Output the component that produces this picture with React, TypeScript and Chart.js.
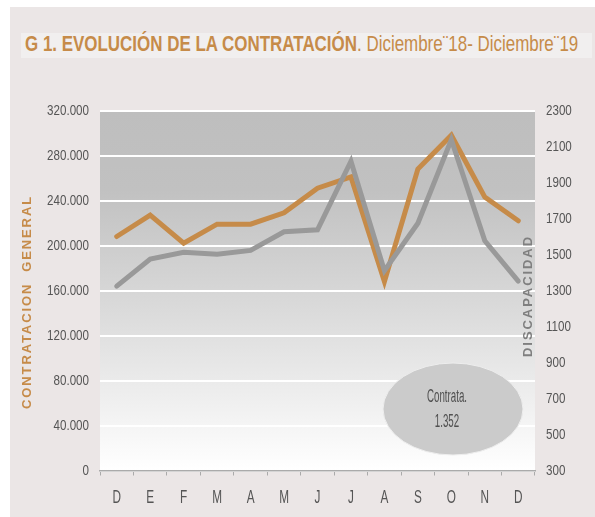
import React, { useEffect, useRef } from "react";
import { Chart, registerables } from "chart.js";

Chart.register(...registerables);

const months = ["D", "E", "F", "M", "A", "M", "J", "J", "A", "S", "O", "N", "D"];
const contratacionGeneral = [208000, 227000, 202000, 219000, 219000, 229000, 251000, 261000, 168000, 268000, 298000, 243000, 222000];
const discapacidad = [1324, 1475, 1512, 1501, 1523, 1626, 1637, 2018, 1410, 1674, 2138, 1576, 1352];
const leftMin = 0;
const leftMax = 320000;
const leftStep = 40000;
const rightMin = 300;
const rightMax = 2300;
const rightStep = 200;
const leftTitle = "CONTRATACION  GENERAL";
const rightTitle = "DISCAPACIDAD";
const bubbleLines = ["Contrata.", "1.352"];
const titleBold = "G 1. EVOLUCIÓN DE LA CONTRATACIÓN";
const titleRest = ". Diciembre¨18- Diciembre¨19";

const SANS = '"Liberation Sans", Arial, sans-serif';
const ORANGE = "#c68b49";
const GREY = "#999999";
const TICK_COLOR = "#555555";
const CANVAS_TOP = 95;
const TITLE_LEFT = 25;
const TITLE_WIDTH = 553;

function fmt(v: number) {
  if (v === 0) return "0";
  const s = String(Math.round(v));
  return s.replace(/\B(?=(\d{3})+(?!\d))/g, ".");
}

function drawSpaced(ctx: CanvasRenderingContext2D, text: string, target: number) {
  (ctx as any).letterSpacing = "0px";
  const w = ctx.measureText(text).width;
  const ls = Math.max(0, (target - w) / text.length);
  (ctx as any).letterSpacing = ls + "px";
  ctx.fillText(text, 0, 0);
  (ctx as any).letterSpacing = "0px";
}

function narrowText(ctx: CanvasRenderingContext2D, text: string, x: number, y: number, sx: number) {
  ctx.save();
  ctx.translate(x, y);
  ctx.scale(sx, 1);
  ctx.fillText(text, 0, 0);
  ctx.restore();
}

const decorPlugin = {
  id: "decor",
  beforeDraw(chart: any) {
    const { ctx, chartArea } = chart;
    const g = ctx.createLinearGradient(0, chartArea.top, 0, chartArea.bottom);
    g.addColorStop(0, "#bebebe");
    g.addColorStop(0.22, "#c1c1c1");
    g.addColorStop(0.55, "#dadada");
    g.addColorStop(1, "#ffffff");
    ctx.save();
    ctx.fillStyle = g;
    ctx.fillRect(chartArea.left, chartArea.top, chartArea.right - chartArea.left, chartArea.bottom - chartArea.top);
    ctx.restore();
  },
  afterDraw(chart: any) {
    const { ctx, scales } = chart;
    ctx.save();
    ctx.fillStyle = TICK_COLOR;
    ctx.textBaseline = "middle";
    ctx.font = "14.5px " + SANS;
    ctx.textAlign = "right";
    const yL = scales.yL;
    yL.ticks.forEach((t: any, i: number) => {
      narrowText(ctx, fmt(t.value), yL.right - 11, yL.getPixelForTick(i), 0.8);
    });
    ctx.textAlign = "left";
    const yR = scales.yR;
    yR.ticks.forEach((t: any, i: number) => {
      narrowText(ctx, String(t.value), yR.left + 11, yR.getPixelForTick(i), 0.8);
    });
    ctx.textAlign = "center";
    ctx.font = "19px " + SANS;
    const xs = scales.x;
    xs.ticks.forEach((t: any, i: number) => {
      narrowText(ctx, String(chart.data.labels[t.value] ?? t.label), xs.getPixelForTick(i), 498 - CANVAS_TOP, 0.62);
    });
    ctx.restore();

    ctx.save();
    ctx.translate(27, 302 - CANVAS_TOP);
    ctx.rotate(-Math.PI / 2);
    ctx.fillStyle = ORANGE;
    ctx.font = "bold 13px " + SANS;
    ctx.textAlign = "center";
    ctx.textBaseline = "middle";
    drawSpaced(ctx, leftTitle, 214);
    ctx.restore();

    ctx.save();
    ctx.translate(528, 296 - CANVAS_TOP);
    ctx.rotate(-Math.PI / 2);
    ctx.fillStyle = "#7f7f7f";
    ctx.font = "bold 13px " + SANS;
    ctx.textAlign = "center";
    ctx.textBaseline = "middle";
    drawSpaced(ctx, rightTitle, 122);
    ctx.restore();

    ctx.save();
    ctx.beginPath();
    ctx.ellipse(453, 409 - CANVAS_TOP, 70, 46, 0, 0, Math.PI * 2);
    ctx.fillStyle = "#cbcbcb";
    ctx.fill();
    ctx.strokeStyle = "#eeeeee";
    ctx.lineWidth = 1;
    ctx.stroke();
    ctx.fillStyle = "#505050";
    ctx.font = "18px " + SANS;
    ctx.textAlign = "center";
    ctx.textBaseline = "middle";
    narrowText(ctx, bubbleLines[0], 447, 397 - CANVAS_TOP, 0.54);
    narrowText(ctx, bubbleLines[1], 447, 422 - CANVAS_TOP, 0.54);
    ctx.restore();
  },
};

export default function App() {
  const ref = useRef<HTMLCanvasElement>(null);
  const titleRef = useRef<HTMLDivElement>(null);

  useEffect(() => {
    const el = titleRef.current;
    if (el) {
      const w = el.scrollWidth;
      if (w > 0) el.style.transform = `scaleX(${TITLE_WIDTH / w})`;
    }
  }, []);

  useEffect(() => {
    if (!ref.current) return;
    const chart = new Chart(ref.current, {
      type: "line",
      data: {
        labels: months,
        datasets: [
          {
            label: "Discapacidad",
            data: discapacidad,
            yAxisID: "yR",
            borderColor: GREY,
            borderWidth: 5,
            pointRadius: 0,
            tension: 0,
            order: 0,
            borderJoinStyle: "miter",
            borderCapStyle: "round",
          },
          {
            label: "Contratación general",
            data: contratacionGeneral,
            yAxisID: "yL",
            borderColor: ORANGE,
            borderWidth: 5,
            pointRadius: 0,
            tension: 0,
            order: 1,
            borderJoinStyle: "miter",
            borderCapStyle: "round",
          },
        ],
      },
      options: {
        animation: false,
        responsive: false,
        maintainAspectRatio: false,
        layout: { padding: { top: 110.5 - CANVAS_TOP, left: 0, right: 0, bottom: 0 } },
        plugins: { legend: { display: false }, tooltip: { enabled: false } },
        scales: {
          x: {
            offset: true,
            grid: {
              display: true,
              offset: true,
              drawOnChartArea: false,
              tickLength: 5,
              color: "#aaaaaa",
            },
            border: { display: true, color: "#aaaaaa", width: 1.5 },
            ticks: { display: false, maxRotation: 0, autoSkip: false },
            afterFit(scale: any) {
              scale.height = 517 - 470.5;
            },
          },
          yL: {
            position: "left",
            min: leftMin,
            max: leftMax,
            grid: { color: "#ffffff", lineWidth: 2, drawTicks: false },
            border: { display: false },
            ticks: { stepSize: leftStep, display: false },
            afterFit(scale: any) {
              scale.width = 100;
            },
          },
          yR: {
            position: "right",
            min: rightMin,
            max: rightMax,
            grid: { display: false, drawTicks: false },
            border: { display: false },
            ticks: { stepSize: rightStep, display: false },
            afterFit(scale: any) {
              scale.width = 60;
            },
          },
        },
      },
      plugins: [decorPlugin],
    } as any);
    return () => chart.destroy();
  }, []);

  return (
    <div style={{ position: "absolute", left: 0, top: 0, width: 595, height: 517, background: "#ffffff", overflow: "hidden" }}>
      <div style={{ position: "absolute", left: 10, top: 7, width: 585, height: 510, background: "#ebe6e6" }} />
      <div style={{ position: "absolute", left: 21, top: 33, width: 571, height: 25, background: "#f1efef" }} />
      <div
        ref={titleRef}
        style={{
          position: "absolute",
          left: TITLE_LEFT,
          top: 30,
          whiteSpace: "nowrap",
          color: ORANGE,
          fontFamily: SANS,
          fontSize: 22,
          lineHeight: "28px",
          transformOrigin: "0 0",
        }}
      >
        <span style={{ fontWeight: "bold" }}>{titleBold}</span>
        <span>{titleRest}</span>
      </div>
      <canvas
        ref={ref}
        width={595}
        height={517 - CANVAS_TOP}
        style={{ position: "absolute", left: 0, top: CANVAS_TOP, width: 595, height: 517 - CANVAS_TOP }}
      />
    </div>
  );
}
